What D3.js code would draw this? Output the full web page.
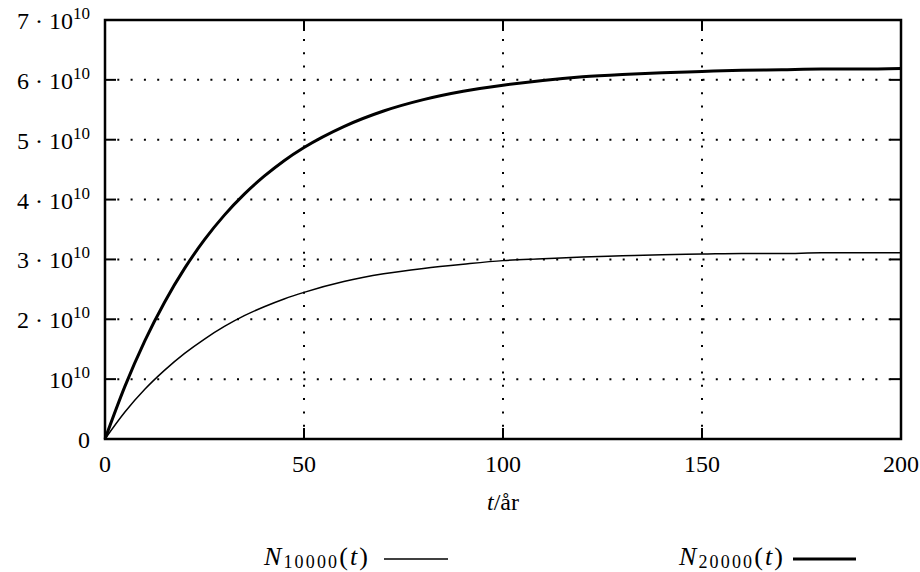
<!DOCTYPE html>
<html>
<head>
<meta charset="utf-8">
<script src="https://cdn.jsdelivr.net/npm/d3@7"></script>
<style>
  body { margin: 0; background: #fff; }
  text { font-family: "Liberation Serif", "DejaVu Serif", serif; fill: #000; }
</style>
</head>
<body>
<div id="chart"></div>
<script>
// time in years
var years = [0, 5, 10, 15, 20, 25, 30, 35, 40, 45, 50, 60, 70, 80, 90, 100,
  110, 120, 130, 140, 150, 160, 170, 180, 190, 200];
// values, in units of 10^10
var n10000 = [0, 0.45, 0.83, 1.15, 1.43, 1.67, 1.88, 2.06, 2.21, 2.34, 2.45, 2.63,
  2.76, 2.85, 2.92, 2.98, 3.01, 3.04, 3.06, 3.08, 3.09, 3.10, 3.10, 3.11, 3.11, 3.11];
var n20000 = [0, 0.88, 1.64, 2.29, 2.85, 3.33, 3.74, 4.09, 4.39, 4.65, 4.87, 5.22,
  5.48, 5.67, 5.81, 5.91, 5.99, 6.05, 6.09, 6.12, 6.14, 6.16, 6.17, 6.18, 6.18, 6.19];
var xTicks = [0, 50, 100, 150, 200];
var yTicks = [0, 1, 2, 3, 4, 5, 6, 7];

var svgWidth = 920;
var svgHeight = 572;
var margin = { top: 20, right: 19, bottom: 133, left: 105 };
var width = svgWidth - margin.left - margin.right;
var height = svgHeight - margin.top - margin.bottom;

var svg = d3.select("#chart").append("svg")
  .attr("width", svgWidth)
  .attr("height", svgHeight);

var g = svg.append("g")
  .attr("transform", `translate(${margin.left}, ${margin.top})`);

var x = d3.scaleLinear().domain([0, 200]).range([0, width]);
var y = d3.scaleLinear().domain([0, 7]).range([height, 0]);

// dotted grid
g.selectAll(".hgrid")
  .data(yTicks.filter(d => d > 0 && d < 7))
  .enter().append("line")
  .attr("x1", 0).attr("x2", width)
  .attr("y1", d => y(d)).attr("y2", d => y(d))
  .attr("stroke", "#000").attr("stroke-width", 2)
  .attr("stroke-dasharray", "2,11.3").attr("stroke-dashoffset", 1);

g.selectAll(".vgrid")
  .data(xTicks.filter(d => d > 0 && d < 200))
  .enter().append("line")
  .attr("x1", d => x(d)).attr("x2", d => x(d))
  .attr("y1", height).attr("y2", 0)
  .attr("stroke", "#000").attr("stroke-width", 2)
  .attr("stroke-dasharray", "2,11.3").attr("stroke-dashoffset", 1);

// ticks on all four sides, pointing inward
var tickLen = 11;
xTicks.forEach(function(t) {
  g.append("line").attr("x1", x(t)).attr("x2", x(t))
    .attr("y1", height).attr("y2", height - tickLen)
    .attr("stroke", "#000").attr("stroke-width", 2);
  g.append("line").attr("x1", x(t)).attr("x2", x(t))
    .attr("y1", 0).attr("y2", tickLen)
    .attr("stroke", "#000").attr("stroke-width", 2);
});
yTicks.forEach(function(t) {
  g.append("line").attr("x1", 0).attr("x2", tickLen)
    .attr("y1", y(t)).attr("y2", y(t))
    .attr("stroke", "#000").attr("stroke-width", 2);
  g.append("line").attr("x1", width).attr("x2", width - tickLen)
    .attr("y1", y(t)).attr("y2", y(t))
    .attr("stroke", "#000").attr("stroke-width", 2);
});

// curves
var line = d3.line()
  .x((d, i) => x(years[i]))
  .y(d => y(d))
  .curve(d3.curveMonotoneX);

g.append("path").datum(n10000)
  .attr("d", line).attr("fill", "none")
  .attr("stroke", "#000").attr("stroke-width", 1.5);

g.append("path").datum(n20000)
  .attr("d", line).attr("fill", "none")
  .attr("stroke", "#000").attr("stroke-width", 3);

// frame
g.append("rect")
  .attr("x", 0).attr("y", 0)
  .attr("width", width).attr("height", height)
  .attr("fill", "none").attr("stroke", "#000").attr("stroke-width", 2.5);

// x tick labels
g.selectAll(".xlab")
  .data(xTicks)
  .enter().append("text")
  .attr("x", d => x(d))
  .attr("y", height + 33)
  .attr("text-anchor", "middle")
  .attr("font-size", 24)
  .text(d => d);

// y tick labels: "k · 10^10"
yTicks.forEach(function(t) {
  var lab = g.append("text")
    .attr("x", -15)
    .attr("y", y(t) + 9)
    .attr("text-anchor", "end")
    .attr("font-size", 24);
  if (t === 0) {
    lab.text("0");
    return;
  }
  if (t === 1) {
    lab.append("tspan").text("10");
  } else {
    lab.append("tspan").text(t + " \u00b7 10");
  }
  lab.append("tspan").attr("font-size", 17).attr("dy", -10).text("10");
});

// x axis title
var xt = g.append("text")
  .attr("x", width / 2)
  .attr("y", height + 71)
  .attr("text-anchor", "middle")
  .attr("font-size", 24);
xt.append("tspan").attr("font-style", "italic").text("t");
xt.append("tspan").text("/år");

// legend
var legend = [
  { sub: "10000", x: 264, lx1: 384, lx2: 448, w: 1.5 },
  { sub: "20000", x: 679, lx1: 793, lx2: 856, w: 3 }
];
legend.forEach(function(d) {
  var t = svg.append("text")
    .attr("x", d.x)
    .attr("y", 565)
    .attr("font-size", 26)
    .attr("textLength", 104)
    .attr("lengthAdjust", "spacing");
  t.append("tspan").attr("font-style", "italic").text("N");
  t.append("tspan").attr("font-size", 18).attr("dy", 3).text(d.sub);
  t.append("tspan").attr("dy", -3).text("(");
  t.append("tspan").attr("font-style", "italic").text("t");
  t.append("tspan").text(")");
  svg.append("line")
    .attr("x1", d.lx1).attr("x2", d.lx2)
    .attr("y1", 559).attr("y2", 559)
    .attr("stroke", "#000").attr("stroke-width", d.w);
});
</script>
</body>
</html>
